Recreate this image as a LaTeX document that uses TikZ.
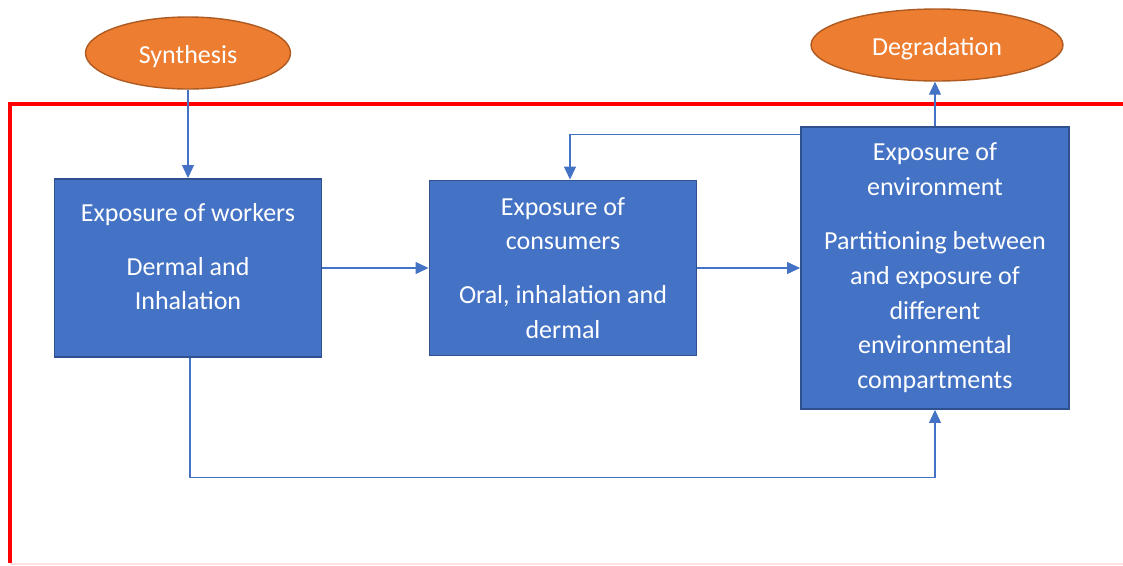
\documentclass[tikz,border=0pt]{standalone}
\usepackage{xcolor}
\usepackage{tikz}
\usepackage{fontspec}
\setmainfont{Carlito}
\definecolor{officeblue}{RGB}{68, 114, 196}
\definecolor{darkblue}{RGB}{47, 82, 143}
\definecolor{officeorange}{RGB}{237, 125, 49}
\definecolor{darkorange}{RGB}{174, 90, 33}
\usetikzlibrary{shapes.geometric, arrows.meta, positioning, calc}

\begin{document}
\begin{tikzpicture}[
    x=0.02cm, y=-0.02cm,
    stage/.style={rectangle, draw=darkblue, fill=officeblue, line width=1.1pt, text=white, align=center, font=\fontsize{14.8}{19.8}\selectfont},
    process/.style={ellipse, draw=darkorange, fill=officeorange, line width=0.8pt, text=white, minimum height=1.44cm, text height=15pt, text depth=3.5pt, font=\fontsize{14.8}{19.8}\selectfont},
    flow/.style={draw=officeblue, line width=0.6pt, -{Triangle[length=0.26cm, width=0.24cm]}}
]
    \useasboundingbox (0,0) rectangle (1123,565);

    % Red frame
    \draw[red, line width=2.1pt] (1123,104) -- (10,104) -- (10,563);
    \draw[red!12, line width=0.8pt] (10,564) -- (1123,564);

    % Start and end
    \node[process, minimum width=4.1cm] (synth) at (188,53) {Synthesis};
    \node[process, minimum width=5.04cm] (degr) at (937,45) {Degradation};

    % Exposure boxes
    \node[stage, minimum width=5.34cm, minimum height=3.56cm, text depth=13pt] (workers) at (188,268)
        {Exposure of workers\\[10.8pt] Dermal and\\Inhalation};
    \node[stage, minimum width=5.34cm, minimum height=3.5cm] (consumers) at (563,268)
        {Exposure of\\consumers\\[10.8pt] Oral, inhalation and\\dermal};
    \node[stage, minimum width=5.36cm, minimum height=5.64cm] (env) at (935,268)
        {Exposure of\\environment\\[10.8pt] Partitioning between\\and exposure of\\different\\environmental\\compartments};

    % Connectors
    \draw[flow] (synth) -- (workers);
    \draw[flow] (workers) -- (consumers);
    \draw[flow] (consumers) -- (env);
    \draw[flow] (env.north) -- (env.north |- degr.south);
    \draw[flow] ($(env.north west)+(0,8)$) -| ($(consumers.north)+(7,0)$);
    \draw[flow] ($(workers.south)+(2,0)$) -- ++(0,120) -| (env.south);

\end{tikzpicture}
\end{document}
